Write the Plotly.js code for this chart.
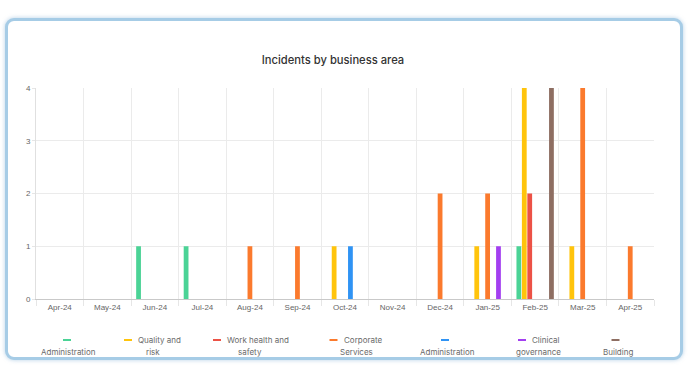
<!DOCTYPE html>
<html><head><meta charset="utf-8">
<script src="https://cdn.plot.ly/plotly-3.0.1.min.js"></script>
<style>
html,body{margin:0;padding:0;background:#fff;width:688px;height:367px;overflow:hidden;}
#frame{position:absolute;left:5px;top:18px;width:672px;height:336px;border:3px solid #a6cce6;border-radius:9px;box-shadow:0 0 4px rgba(120,170,210,0.55);background:#fff;}
#chart{position:absolute;left:0;top:0;width:688px;height:367px;}
</style></head><body>
<div id="frame"></div><div id="chart"></div>
<script>
// ---- data ----
const months = ["Apr-24","May-24","Jun-24","Jul-24","Aug-24","Sep-24","Oct-24","Nov-24","Dec-24","Jan-25","Feb-25","Mar-25","Apr-25"];
const seriesNames = ["Administration","Quality and risk","Work health and safety","Corporate Services","Administration","Clinical governance","Building"];
const legendLine1 = ["","Quality and","Work health and","Corporate","","Clinical",""];
const legendLine2 = ["Administration","risk","safety","Services","Administration","governance","Building"];
const administrationA   = [0,0,1,1,0,0,0,0,0,0,1,0,0];
const qualityRisk       = [0,0,0,0,0,0,1,0,0,1,4,1,0];
const workHealthSafety  = [0,0,0,0,0,0,0,0,0,0,2,0,0];
const corporateServices = [0,0,0,0,1,1,0,0,2,2,0,4,1];
const administrationB   = [0,0,0,0,0,0,1,0,0,0,0,0,0];
const clinicalGovernance= [0,0,0,0,0,0,0,0,0,1,0,0,0];
const building          = [0,0,0,0,0,0,0,0,0,0,4,0,0];
const yTicks = [0,1,2,3,4];

// ---- styles / layout ----
const colors = ["#4bd396","#ffc40c","#ec5246","#fb7a2d","#2f93f4","#a33ff0","#8e6e62"];
const allSeries = [administrationA,qualityRisk,workHealthSafety,corporateServices,administrationB,clinicalGovernance,building];
const W = 688, H = 367, mL = 36, mR = 34, mT = 88, mB = 68;
const pw = W - mL - mR, ph = H - mT - mB;
const px2x = p => (p - mL) / pw;
const py2y = p => (H - mB - p) / ph;

const traces = allSeries.map((vals, i) => ({
  type: "bar", x: months, y: vals, name: seriesNames[i],
  marker: {color: colors[i]}, showlegend: false, hoverinfo: "skip"
}));

// legend positions (pixels)
const markerCenters = [67, 128, 217, 333.5, 445, 522, 615.5];
const itemCenters   = [68, 153, 250, 356, 447, 538, 618];
const legY1 = 340, legY2 = 352;
const shapes = [], annotations = [];
const legFont = {family: "Inter, 'Open Sans', sans-serif", size: 8, color: "#6a6a6a"};
seriesNames.forEach((n, i) => {
  shapes.push({type: "line", xref: "paper", yref: "paper",
    x0: px2x(markerCenters[i] - 4), x1: px2x(markerCenters[i] + 4),
    y0: py2y(legY1), y1: py2y(legY1), line: {color: colors[i], width: 2}});
  if (legendLine1[i]) {
    annotations.push({xref: "paper", yref: "paper", x: px2x(markerCenters[i] + 8), y: py2y(legY1),
      xanchor: "left", yanchor: "middle", showarrow: false, text: legendLine1[i], font: legFont});
  }
  annotations.push({xref: "paper", yref: "paper", x: px2x(itemCenters[i]), y: py2y(legY2),
    xanchor: "center", yanchor: "middle", showarrow: false, text: legendLine2[i], font: legFont});
});

const layout = {
  width: W, height: H,
  margin: {l: mL, r: mR, t: mT, b: mB, pad: 0},
  paper_bgcolor: "rgba(0,0,0,0)", plot_bgcolor: "rgba(0,0,0,0)",
  title: {text: "Incidents by business area", x: 333 / W, xref: "container", xanchor: "center",
    y: 1 - 60 / H, yref: "container", yanchor: "middle",
    font: {family: "Inter, 'Open Sans', sans-serif", size: 11.2, color: "#333", weight: 500}},
  barmode: "group", bargap: 0.2, bargroupgap: 0.12,
  showlegend: false,
  xaxis: {type: "category", tickson: "boundaries", showgrid: true, gridcolor: "#ebebeb", gridwidth: 1,
    ticks: "outside", ticklen: 6, tickcolor: "#e6e6e6", showline: true, linecolor: "#c9c9c9", linewidth: 1,
    tickfont: {family: "'Liberation Sans', Arial, sans-serif", size: 8, color: "#666"},
    fixedrange: true, range: [-0.5, 12.5]},
  yaxis: {range: [0, 4], tickvals: yTicks, showgrid: true, gridcolor: "#ebebeb", gridwidth: 1,
    ticks: "outside", ticklen: 3, tickcolor: "#e6e6e6", showline: true, linecolor: "#e0e0e0", zeroline: false,
    tickfont: {family: "'Liberation Sans', Arial, sans-serif", size: 8, color: "#666"}, fixedrange: true},
  shapes: shapes, annotations: annotations
};
Plotly.newPlot("chart", traces, layout, {displayModeBar: false, staticPlot: true});
</script></body></html>
